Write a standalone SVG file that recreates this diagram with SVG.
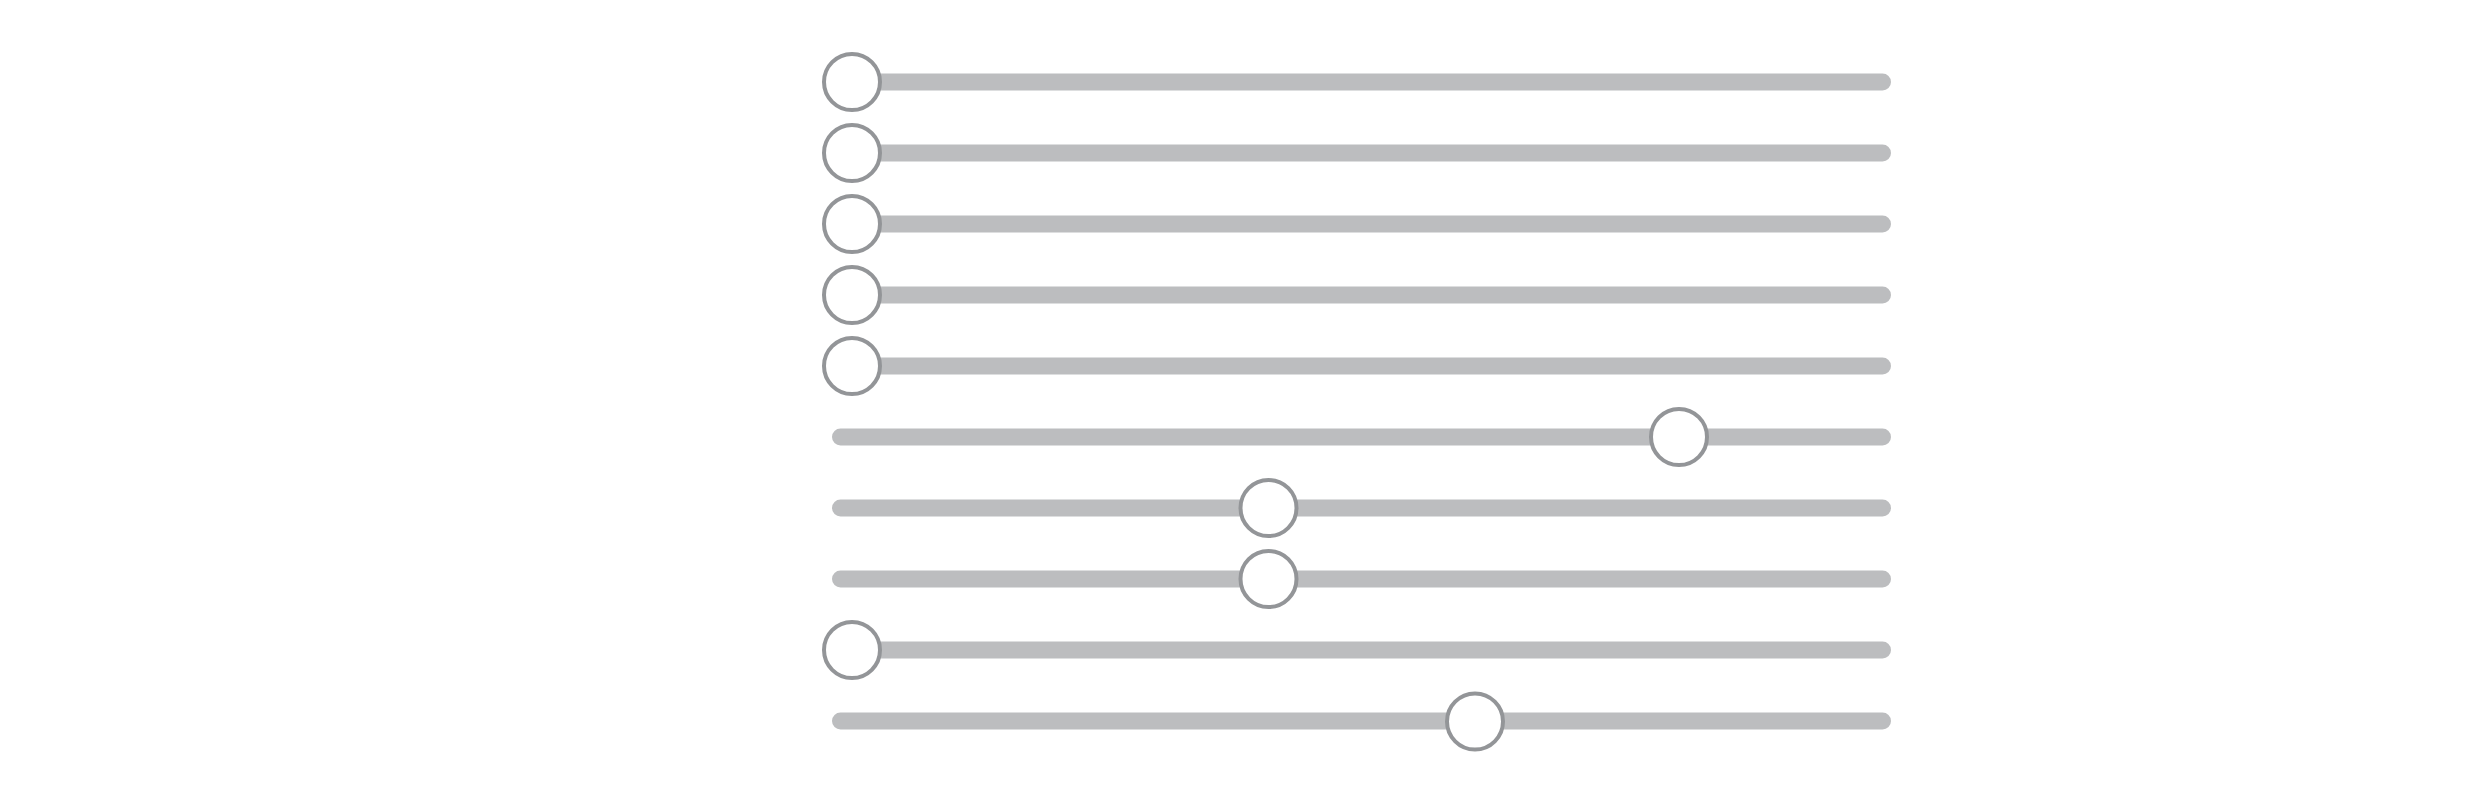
<svg xmlns="http://www.w3.org/2000/svg" width="2481" height="803" viewBox="0 0 2481 803">
<style>
.track{fill:#bcbdbf}
.knob{fill:#ffffff;stroke:#939598;stroke-width:4}
</style>
<rect width="2481" height="803" fill="#ffffff"/>
<g id="slider1"><rect class="track" x="832" y="73.5" width="1059" height="17" rx="8.5"/><circle class="knob" cx="852" cy="82" r="28"/></g>
<g id="slider2"><rect class="track" x="832" y="144.5" width="1059" height="17" rx="8.5"/><circle class="knob" cx="852" cy="153" r="28"/></g>
<g id="slider3"><rect class="track" x="832" y="215.5" width="1059" height="17" rx="8.5"/><circle class="knob" cx="852" cy="224" r="28"/></g>
<g id="slider4"><rect class="track" x="832" y="286.5" width="1059" height="17" rx="8.5"/><circle class="knob" cx="852" cy="295" r="28"/></g>
<g id="slider5"><rect class="track" x="832" y="357.5" width="1059" height="17" rx="8.5"/><circle class="knob" cx="852" cy="366" r="28"/></g>
<g id="slider6"><rect class="track" x="832" y="428.5" width="1059" height="17" rx="8.5"/><circle class="knob" cx="1679" cy="437" r="28"/></g>
<g id="slider7"><rect class="track" x="832" y="499.5" width="1059" height="17" rx="8.5"/><circle class="knob" cx="1268.5" cy="508" r="28"/></g>
<g id="slider8"><rect class="track" x="832" y="570.5" width="1059" height="17" rx="8.5"/><circle class="knob" cx="1268.5" cy="579" r="28"/></g>
<g id="slider9"><rect class="track" x="832" y="641.5" width="1059" height="17" rx="8.5"/><circle class="knob" cx="852" cy="650" r="28"/></g>
<g id="slider10"><rect class="track" x="832" y="712.5" width="1059" height="17" rx="8.5"/><circle class="knob" cx="1475" cy="721.5" r="28"/></g>
</svg>
